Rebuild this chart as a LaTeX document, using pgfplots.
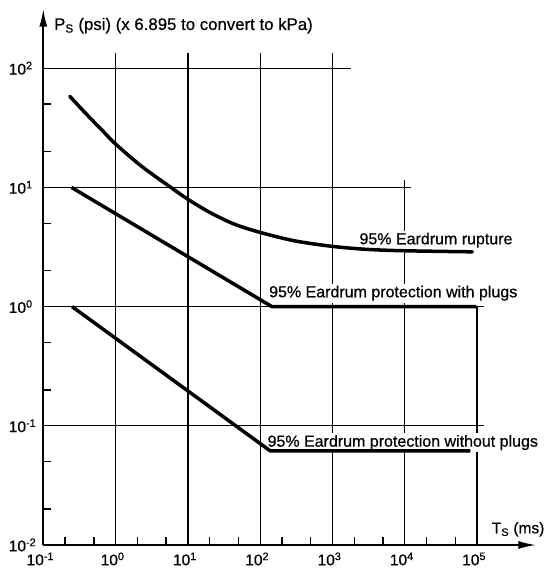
\documentclass[border=0pt]{standalone}
\usepackage{fontspec}
\setmainfont{Liberation Sans}[BoldFont={Liberation Sans}, BoldFeatures={FakeBold=0.6}]
\usepackage{pgfplots}
\pgfplotsset{compat=1.18}
\usetikzlibrary{arrows.meta}
\begin{document}
\begin{tikzpicture}
\begin{axis}[name=ax, at={(0,0)}, anchor=south west,
  xmode=log, ymode=log, scale only axis,
  width=493.1pt, height=536.4pt,
  xmin=0.1, xmax=660693, ymin=0.01, ymax=316.2,
  enlargelimits=false, clip=false,
  axis lines=left,
  axis line style={line width=2pt, -{Latex[length=18pt,width=8pt]}},
  xtick={0.1,1,10,100,1000,10000,100000},
  xticklabels={10\textsuperscript{-1},10\textsuperscript{0},10\textsuperscript{1},10\textsuperscript{2},10\textsuperscript{3},10\textsuperscript{4},10\textsuperscript{5}},
  ytick={0.01,0.1,1,10,100},
  yticklabels={10\textsuperscript{-2},10\textsuperscript{-1},10\textsuperscript{0},10\textsuperscript{1},10\textsuperscript{2}},
  minor xtick={0.2,0.5,2,5,20,50,200,500,2000,5000,20000,50000},
  minor ytick={0.02,0.05,0.2,0.5,2,5,20,50},
  major tick length=0pt, minor tick length=8pt, tick align=inside,
  minor tick style={line width=1.4pt, black},
  tick label style={font=\fontsize{15.5}{17}\selectfont\bfseries},
  xticklabel style={yshift=-4pt, xshift=-3pt},
  yticklabel style={anchor=west, xshift=-38pt, yshift=0pt},
]
% grid segments
\addplot[black, line width=1.3pt, forget plot] coordinates {(0.1,100) (1778,100)};
\addplot[black, line width=1.3pt, forget plot] coordinates {(0.1,10) (12300,10)};
\addplot[black, line width=1.3pt, forget plot] coordinates {(0.1,1) (125900,1)};
\addplot[black, line width=1.3pt, forget plot] coordinates {(0.1,0.1) (125900,0.1)};
\addplot[black, line width=1.3pt, forget plot] coordinates {(1,0.01) (1,133.7)};
\addplot[black, line width=1.3pt, forget plot] coordinates {(10,0.01) (10,133.7)};
\addplot[black, line width=1.3pt, forget plot] coordinates {(100,0.01) (100,133.7)};
\addplot[black, line width=1.3pt, forget plot] coordinates {(1000,0.01) (1000,133.7)};
\addplot[black, line width=1.3pt, forget plot] coordinates {(10000,0.01) (10000,11.5)};
\addplot[black, line width=1.3pt, forget plot] coordinates {(100000,0.01) (100000,1)};
% labels
\node[anchor=base west, inner sep=0pt, font=\fontsize{16.8}{19}\selectfont\bfseries] at (axis cs:0.1406,209.2) {P\textsubscript{S} (psi) (x 6.895 to convert to kPa)};
\node[anchor=base west, fill=white, inner sep=2pt, font=\fontsize{16}{19}\selectfont\bfseries] at (axis cs:2203,3.333) {95\% Eardrum rupture};
\node[anchor=base west, fill=white, inner sep=2pt, font=\fontsize{16}{19}\selectfont\bfseries] at (axis cs:124,1.197) {95\% Eardrum protection with plugs};
\node[anchor=base west, fill=white, inner sep=2pt, font=\fontsize{16}{19}\selectfont\bfseries] at (axis cs:118,0.0668) {95\% Eardrum protection without plugs};
\node[anchor=base west, inner sep=0pt, font=\fontsize{15.5}{18}\selectfont\bfseries] at (axis cs:159000,0.01254) {T\textsubscript{S} (ms)};
% curves
\addplot[black, line width=3.5pt, smooth, tension=0.5, line cap=round] coordinates {
  (0.233,58) (0.35,44.5) (0.5,35.5) (0.7,28.8) (1,23.1) (2.3,15.0) (5.8,10) (10,7.95)
  (20,6.18) (43.7,4.92) (100,4.19) (300,3.56) (1000,3.2) (3000,3.02) (10000,2.94) (86000,2.88)};
\addplot[black, line width=3.5pt, line join=round] coordinates {(0.245,10) (145,1) (98000,1)};
\addplot[black, line width=3.5pt, line join=round] coordinates {(0.25,1) (137,0.0617) (81000,0.0617)};
\end{axis}
\pgfresetboundingbox
\path[use as bounding box] ([shift={(-43.3pt,-31pt)}]ax.south west) rectangle ([shift={(501.7pt,545pt)}]ax.south west);
\end{tikzpicture}
\end{document}
